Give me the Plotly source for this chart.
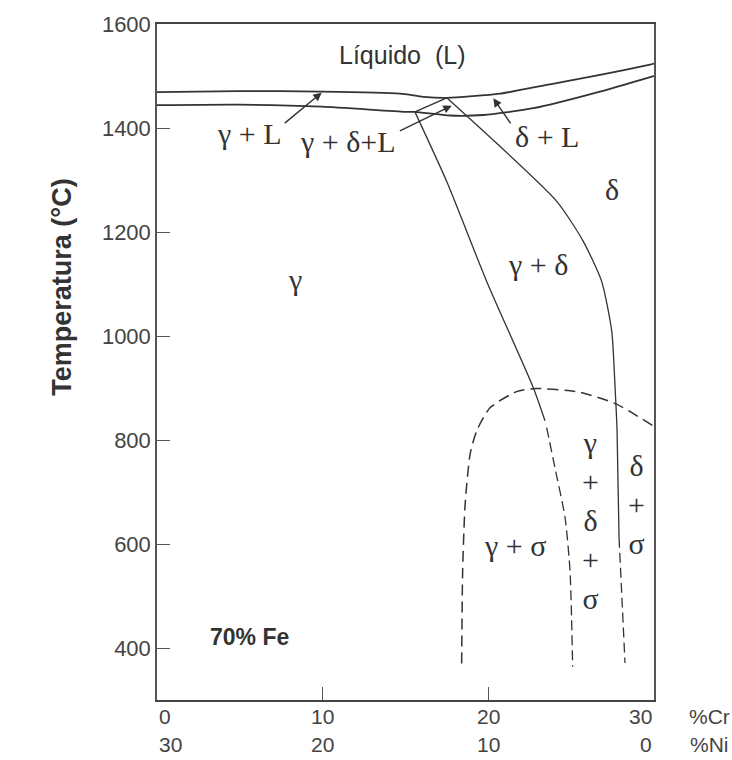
import plotly.graph_objects as go

# ---------------- data ----------------
liq_x = [0, 4.9, 9.94, 14.67, 16.07, 17.49, 20.7, 23.72, 26.74, 29.76, 30]
liq_y = [1469, 1471, 1470, 1466, 1460, 1458, 1466, 1484, 1502, 1522, 1524]

sol_x = [0, 4.9, 9.94, 14.97, 15.57, 17.69, 19.7, 22.71, 26.74, 29.76, 30]
sol_y = [1444, 1445, 1441, 1431, 1431, 1424, 1425, 1438, 1470, 1498, 1500]

tie_x = [15.57, 17.49]
tie_y = [1431, 1458]

gd_x = [15.57, 17.49, 19.9, 22.71, 23.42]          # gamma / gamma+delta (solid)
gd_y = [1431, 1297, 1105, 901, 837]
gd2_x = [23.52, 24.02, 24.63, 24.93, 25.09]       # continuation (dashed)
gd2_y = [824, 747, 651, 549, 364]

dl_x = [17.49, 24.13, 25.73, 26.84, 27.45, 27.65, 27.77, 27.89]   # delta / gamma+delta (solid)
dl_y = [1458, 1259, 1182, 1105, 1009, 901, 818, 612]
dl2_x = [27.89, 28.07, 28.25]                      # continuation (dashed)
dl2_y = [612, 492, 371]

dome_x = [18.39, 18.45, 18.6, 18.9, 19.3, 20.1, 21.7, 22.9, 25.5, 27.74, 29.96]
dome_y = [370, 549, 677, 773, 818, 862, 893, 899, 892, 869, 827]

cr_ticks = [0, 10, 20, 30]
cr_labels = ["0", "10", "20", "30"]
ni_labels = ["30", "20", "10", "0"]
y_ticks = [400, 600, 800, 1000, 1200, 1400, 1600]

# region labels: (text, x, y)
region_labels = [
    ("γ", 8.33, 1108),
    ("γ + δ", 23.02, 1137),
    ("δ", 27.45, 1281),
    ("γ + σ", 21.6, 597),
    ("γ<br>+<br>δ<br>+<br>σ", 26.14, 645),
    ("δ<br>+<br>σ", 28.95, 676),
]
# arrow labels: (text, text x, text y, tail x, tail y, head x, head y)
arrow_labels = [
    ("γ + L", 5.61, 1390, 7.62, 1407, 9.94, 1468),
    ("γ + δ+L", 11.55, 1374, 14.57, 1393, 17.79, 1443),
    ("δ + L", 23.52, 1383, 21.41, 1406, 20.3, 1457),
]

INK = "#333333"
LBL = "#444444"
SANS = "Liberation Sans, Arial, sans-serif"
SERIF = "Liberation Serif, Times New Roman, serif"

fig = go.Figure()


def add_line(x, y, dash="solid", width=1.4, shape="spline"):
    fig.add_trace(go.Scatter(x=x, y=y, mode="lines",
                             line=dict(color=INK, width=width, dash=dash, shape=shape, smoothing=0.6),
                             hoverinfo="skip", showlegend=False))


add_line(liq_x, liq_y, width=1.8)
add_line(sol_x, sol_y, width=1.8)
add_line(tie_x, tie_y, width=1.4, shape="linear")
add_line(gd_x, gd_y, width=1.3)
add_line(gd2_x, gd2_y, dash="10px,5px", width=1.3)
add_line(dl_x, dl_y, width=1.3)
add_line(dl2_x, dl2_y, dash="10px,5px", width=1.3)
add_line(dome_x, dome_y, dash="11px,6px", width=1.5)

annotations = []
for txt, x, y in region_labels:
    annotations.append(dict(x=x, y=y, text=txt, showarrow=False,
                            font=dict(family=SERIF, size=30, color=INK)))

for txt, tx, ty, ax, ay, hx, hy in arrow_labels:
    annotations.append(dict(x=tx, y=ty, text=txt, showarrow=False,
                            font=dict(family=SERIF, size=30, color=INK)))
    annotations.append(dict(x=hx, y=hy, ax=ax, ay=ay, axref="x", ayref="y",
                            text="", showarrow=True, arrowhead=2, arrowsize=1.2,
                            arrowwidth=1.4, arrowcolor=INK, standoff=0))

annotations.append(dict(x=14.77, y=1540, text="Líquido  (L)", showarrow=False,
                        font=dict(family=SANS, size=25, color=INK)))
annotations.append(dict(x=5.61, y=421, text="<b>70% Fe</b>", showarrow=False,
                        font=dict(family=SANS, size=23, color=INK)))

# y-axis title (placed as in the reference, above the plot centre)
annotations.append(dict(x=-0.19, y=1094, xref="paper", yref="y",
                        text="<b>Temperatura (°C)</b>", textangle=-90,
                        showarrow=False, xanchor="center", yanchor="middle",
                        font=dict(family=SANS, size=27, color=INK)))

# two rows of x labels (%Cr above, %Ni below), edge labels aligned inward
for xv, lab_cr, lab_ni in zip(cr_ticks, cr_labels, ni_labels):
    anchor = "left" if xv == cr_ticks[0] else ("right" if xv == cr_ticks[-1] else "center")
    annotations.append(dict(x=xv, y=-0.024, xref="x", yref="paper", text=lab_cr,
                            showarrow=False, yanchor="middle", xanchor=anchor,
                            font=dict(family=SANS, size=21, color=LBL)))
    annotations.append(dict(x=xv, y=-0.066, xref="x", yref="paper", text=lab_ni,
                            showarrow=False, yanchor="middle", xanchor=anchor,
                            font=dict(family=SANS, size=21, color=LBL)))
annotations.append(dict(x=1.111, y=-0.024, xref="paper", yref="paper", text="%Cr",
                        showarrow=False, yanchor="middle", xanchor="center",
                        font=dict(family=SANS, size=21, color=LBL)))
annotations.append(dict(x=1.111, y=-0.066, xref="paper", yref="paper", text="%Ni",
                        showarrow=False, yanchor="middle", xanchor="center",
                        font=dict(family=SANS, size=21, color=LBL)))

fig.update_layout(
    width=732, height=760,
    margin=dict(l=157, r=78, t=22, b=60),
    paper_bgcolor="white", plot_bgcolor="white",
    annotations=annotations,
    showlegend=False,
)
fig.update_xaxes(range=[0, 30], tickvals=cr_ticks, showticklabels=False,
                 ticks="inside", ticklen=13, tickcolor="#555555", tickwidth=1.2,
                 showline=True, linecolor="#444444", linewidth=2, mirror=True,
                 showgrid=False, zeroline=False)
fig.update_yaxes(range=[300, 1600], tickvals=y_ticks,
                 ticks="inside", ticklen=13, tickcolor="#555555", tickwidth=1.2,
                 showline=True, linecolor="#555555", linewidth=1.5, mirror=True,
                 showgrid=False, zeroline=False,
                 tickfont=dict(family=SANS, size=22, color=LBL))

fig.write_html("out.html")
